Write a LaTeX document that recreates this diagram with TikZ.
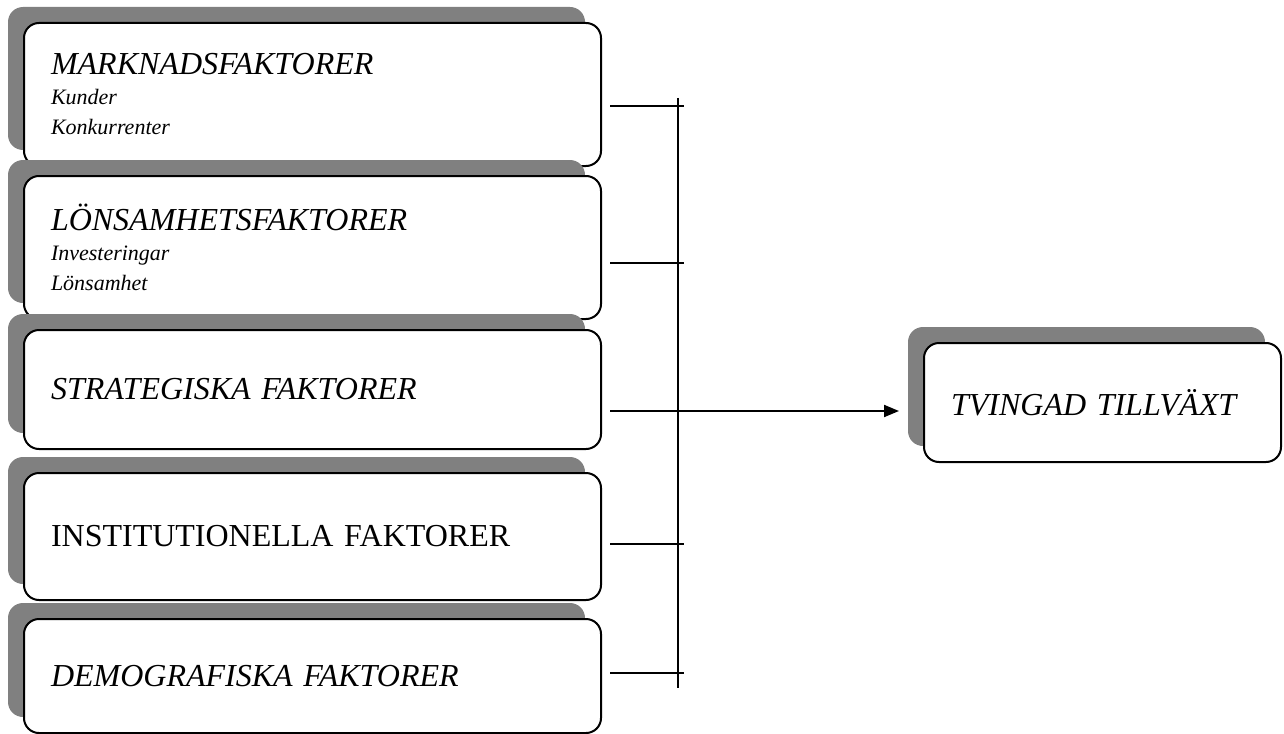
\documentclass[tikz,border=0pt]{standalone}
\usepackage{fontspec}
\setmainfont{Liberation Serif}
\usetikzlibrary{arrows.meta,positioning,shadows}
\definecolor{shgray}{RGB}{128,128,128}
\definecolor{lnblack}{RGB}{0,0,0}

\begin{document}
\begin{tikzpicture}[x=0.5pt,y=-0.5pt,
    fbox/.style={draw=lnblack,fill=white,line width=1pt,rounded corners=7.5pt,
                 drop shadow={shadow xshift=-8pt,shadow yshift=8pt,fill=shgray,opacity=1},
                 anchor=north west,align=left,text width=261.5pt,inner xsep=13.5pt,
                 minimum width=288.5pt,
                 font=\itshape\fontsize{11}{15}\selectfont},
    big/.style={font=\itshape\fontsize{16}{19}\selectfont},
    arr/.style={-{Triangle[length=7.5pt,width=6pt]},line width=1pt,lnblack},
    bus/.style={line width=1pt,lnblack}
  ]
    \useasboundingbox (0,0) rectangle (1284,733);

    % factor boxes, stacked top to bottom
    \node[fbox,minimum height=71.5pt] (mark) at (23,22)
      {{\fontsize{16}{15}\selectfont MARKNADSFAKTORER}\\Kunder\\Konkurrenter};
    \node[fbox,minimum height=71.5pt] (lons) at (23,175)
      {{\fontsize{16}{15}\selectfont LÖNSAMHETSFAKTORER}\\Investeringar\\Lönsamhet};
    \node[fbox,big,minimum height=59.5pt] (strat) at (23,329) {STRATEGISKA FAKTORER};
    \node[fbox,minimum height=63.5pt,font=\upshape\fontsize{16}{19}\selectfont] (inst)
      at (23,472) {INSTITUTIONELLA FAKTORER};
    \node[fbox,big,minimum height=57pt] (demo) at (23,618) {DEMOGRAFISKA FAKTORER};

    % result box
    \node[fbox,big,minimum height=59.5pt,minimum width=178.5pt,text width=151.5pt]
      (tv) at (923,342) {TVINGAD TILLVÄXT};

    % collecting bar
    \coordinate (bt) at (678,98);
    \coordinate (bb) at (678,688);
    \draw[bus] (bt) -- (bb);

    \coordinate (s1) at (610,106);
    \coordinate (s2) at (610,263);
    \coordinate (s3) at (610,411);
    \coordinate (s4) at (610,544);
    \coordinate (s5) at (610,673);

    \draw[bus] (s1) -- (s1 -| bt) -- ++(6,0);
    \draw[bus] (s2) -- (s2 -| bt) -- ++(6,0);
    \draw[bus] (s4) -- (s4 -| bt) -- ++(6,0);
    \draw[bus] (s5) -- (s5 -| bt) -- ++(6,0);
    \draw[arr,shorten >=12pt] (s3) -- (s3 -| tv.west);
\end{tikzpicture}
\end{document}
